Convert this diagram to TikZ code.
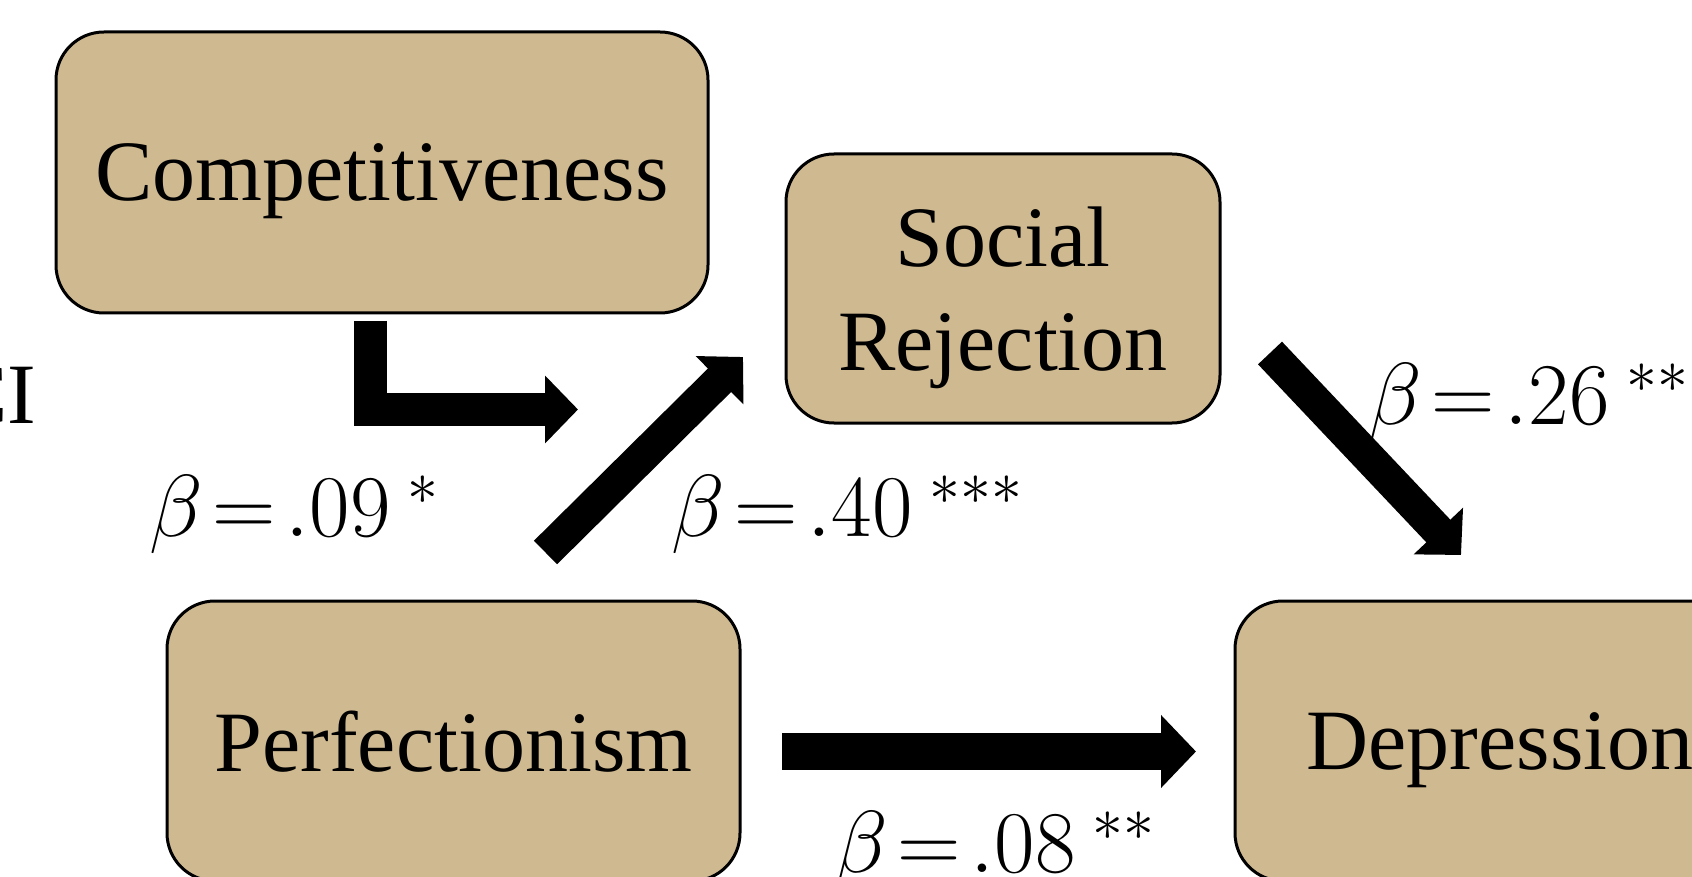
\RequirePackage{fix-cm}
\documentclass[tikz,border=0pt]{standalone}
\usepackage{fontspec}
\usetikzlibrary{arrows.meta}
\newfontfamily\varfont{Liberation Serif}
\definecolor{oldgold}{RGB}{207,185,145}
\tikzstyle{var}=[shape=rectangle, rounded corners=24pt, draw=black, line width=1.5pt, fill=oldgold, inner sep=0, text depth=0pt, align=center, font=\varfont\fontsize{43}{52}\selectfont]
\tikzstyle{coef}=[anchor=base west, inner sep=0, font=\fontsize{44}{52}\selectfont]
\tikzstyle{eff}=[line width=16.5pt, -{Triangle[length=16.5pt, width=33pt]}]

\begin{document}
\begin{tikzpicture}[x=0.5pt, y=-0.5pt]
\useasboundingbox (0,0) rectangle (1692,877);
\node at (382,172.5)[var, minimum width=326pt, minimum height=140.5pt](comp){Competitiveness};
\node at (1003,288.5)[var, minimum width=217pt, minimum height=134.5pt](soc){Social\\Rejection};
\node at (453.5,741)[var, minimum width=286.5pt, minimum height=140pt](perf){Perfectionism};
\node at (1500,741)[var, minimum width=265pt, minimum height=140pt](dep){Depression};
\node at (37,423)[anchor=base east, inner sep=0, font=\varfont\fontsize{43}{52}\selectfont](ci){CI};
\coordinate (a1) at (370.5,321);
\coordinate (a2) at (578,409.5);
\coordinate (b1) at (545.5,552.5);
\coordinate (b2) at (743,357);
\coordinate (c1) at (1270,353);
\coordinate (c2) at (1461,555);
\coordinate (d1) at (782,751.5);
\coordinate (d2) at (1196,751.5);
\draw[eff] (a1) |- (a2);
\draw[eff] (b1)--(b2);
\draw[eff] (c1)--(c2);
\draw[eff, line width=18.5pt, -{Triangle[length=17.5pt, width=35.5pt]}] (d1)--(d2);
\node at (149,536)[coef](l09){$\beta\!=\!.09^{\;*}$};
\node at (671,536)[coef](l40){$\beta\!=\!.40^{\;***}$};
\node at (1368,424)[coef](l26){$\beta\!=\!.26^{\;***}$};
\node at (834,872)[coef](l08){$\beta\!=\!.08^{\;**}$};
\end{tikzpicture}
\end{document}
